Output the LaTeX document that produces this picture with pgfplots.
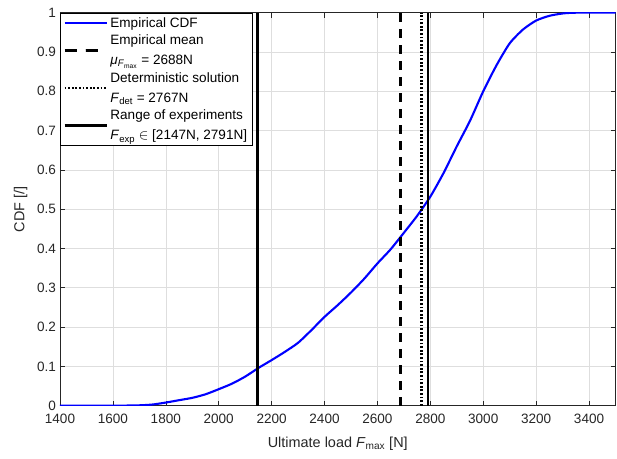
\documentclass[border=0pt]{standalone}
\usepackage{pgfplots}
\pgfplotsset{compat=1.18}
\usepackage{fontspec}
\setmainfont{Liberation Sans}
\definecolor{axgray}{gray}{0.15}
\definecolor{gridgray}{gray}{0.87}
\begin{document}
\begin{tikzpicture}
\begin{axis}[
  at={(0,0)}, anchor=south west,
  width=555.5bp, height=393bp, scale only axis,
  xmin=1400, xmax=3500, ymin=0, ymax=1,
  xtick={1400,1600,...,3400},
  ytick={0,0.1,...,1.0},
  yticklabels={0,0.1,0.2,0.3,0.4,0.5,0.6,0.7,0.8,0.9,1},
  scaled ticks=false,
  /pgf/number format/assume math mode=true,
  /pgf/number format/1000 sep={},
  tick align=inside,
  major tick length=5bp,
  grid=major,
  grid style={gridgray, line width=0.6pt},
  axis line style={axgray, line width=0.6pt},
  tick style={axgray, line width=0.6pt},
  font=\fontsize{14.5}{17}\selectfont,
  ticklabel style={font=\fontsize{13.6}{16}\selectfont, text=axgray},
  xticklabel style={yshift=-4.5bp},
  yticklabel style={xshift=-0.5bp},
  xlabel={Ultimate load \textit{F}\textsubscript{max} [N]},
  ylabel={CDF [/]},
  label style={text=axgray},
  xlabel style={yshift=-6.5bp},
  ylabel style={yshift=3bp},
  legend cell align=left,
  legend style={at={(0,1)}, anchor=north west, draw=black, line width=0.6pt,
    fill=white, font=\fontsize{13.6}{20}\selectfont, nodes={align=left, inner ysep=3.2bp, inner xsep=2bp},
    inner xsep=3bp, inner ysep=1pt, row sep=0pt},
  legend image post style={xscale=2.5},
]
\addplot[blue, line width=2.1bp, smooth, tension=0.4] coordinates {
(1400,0) (1600,0) (1700,0.001) (1750,0.003) (1800,0.008) (1850,0.014)
(1900,0.020) (1950,0.029) (2000,0.042) (2050,0.056) (2100,0.074)
(2150,0.096) (2200,0.116) (2250,0.137) (2300,0.160) (2350,0.192)
(2400,0.226) (2450,0.256) (2500,0.288) (2550,0.323) (2600,0.362)
(2650,0.398) (2700,0.440) (2750,0.483) (2800,0.532) (2850,0.592)
(2900,0.660) (2950,0.725) (3000,0.800) (3050,0.866) (3100,0.922)
(3150,0.957) (3200,0.980) (3250,0.992) (3300,0.998) (3350,1.0) (3500,1.0)};
\addlegendentry{Empirical CDF}
\addplot[black, line width=2.6bp, dash pattern=on 9bp off 7bp,
  legend image post style={dash pattern=on 12bp off 9bp on 12bp off 20bp}] coordinates {(2688,0) (2688,1)};
\addlegendentry{Empirical mean\\\textit{μ}\textsubscript{\textit{F}\textsubscript{max}} = 2688N}
\addplot[black, line width=2.6bp, dash pattern=on 1.8bp off 1.8bp] coordinates {(2767,0) (2767,1)};
\addlegendentry{Deterministic solution\\\textit{F}\textsubscript{det} = 2767N}
\addplot[black, line width=2.6bp] coordinates {(2147,0) (2147,1)};
\addlegendentry{Range of experiments\\\textit{F}\textsubscript{exp} $\in$ [2147N, 2791N]}
\addplot[black, line width=2.6bp, forget plot] coordinates {(2791,0) (2791,1)};
\end{axis}
\pgfresetboundingbox
\path (-60bp,-53.3bp) rectangle (557bp,405.7bp);
\end{tikzpicture}
\end{document}
